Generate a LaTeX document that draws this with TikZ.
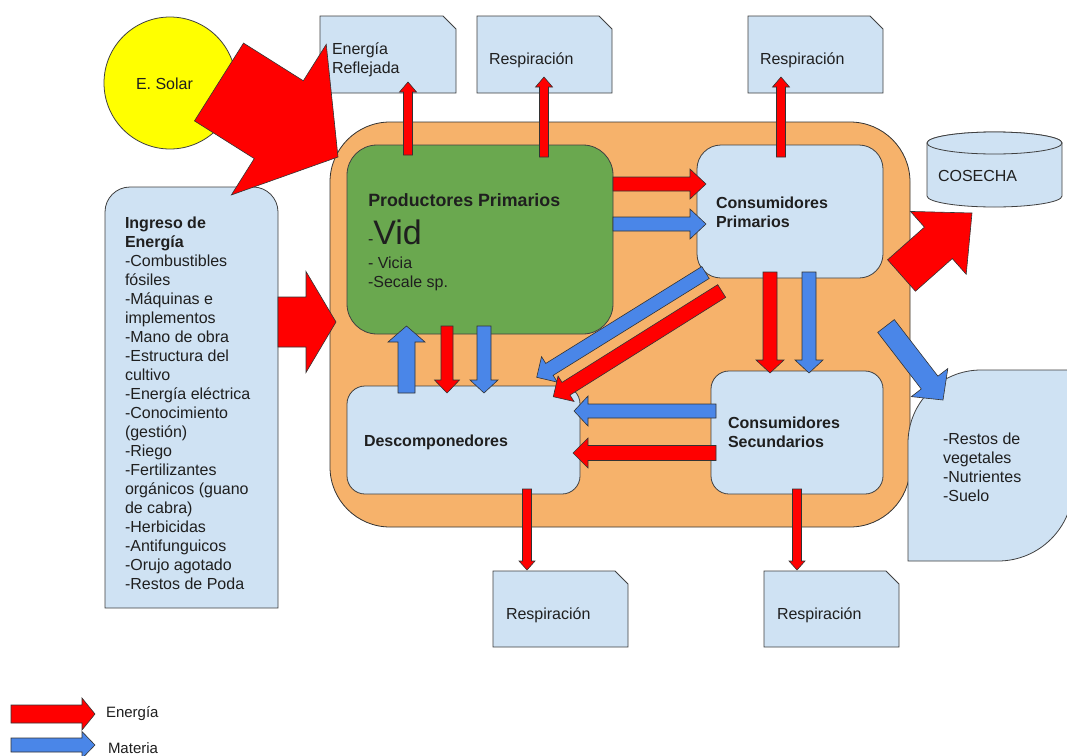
\documentclass[tikz,border=0pt]{standalone}
\usepackage{fontspec}
\setmainfont{Liberation Sans}
\usetikzlibrary{calc}
\definecolor{lblue}{HTML}{CFE2F3}
\definecolor{mblue}{HTML}{4A86E8}
\definecolor{ggreen}{HTML}{6AA84F}
\definecolor{gorange}{HTML}{F6B26B}
\definecolor{gyellow}{HTML}{FFFF00}
\definecolor{gred}{HTML}{FF0000}
% block arrow: #1 style, #2 tail coordinate, #3 tip coordinate, #4 half shaft, #5 half head, #6 head length
\newcommand\blockarrow[6]{%
  \coordinate (bahead) at ($(#3)!#6!(#2)$);
  \draw[#1] ($(#2)!#4!90:(#3)$) -- ($(bahead)!#4!90:(#3)$) -- ($(bahead)!#5!90:(#3)$) -- (#3)
    -- ($(bahead)!#5!-90:(#3)$) -- ($(bahead)!#4!-90:(#3)$) -- ($(#2)!#4!-90:(#3)$) -- cycle;}
% snipped box: x1, y1, x2, y2, name
\newcommand\snipbox[5]{%
  \draw[bx] (#1,#4) -- (#1,#2) -- ({#3-13},#2) -- (#3,{#2+13}) -- (#3,#4) -- cycle;
  \coordinate (#5) at ({(#1+#3)/2},{(#2+#4)/2});}
\begin{document}
\begin{tikzpicture}[x=1pt,y=-1pt,
  lbl/.style={inner sep=0pt, outer sep=0pt, text=black!88, font=\fontsize{16}{19}\selectfont, align=left},
  blbl/.style={lbl, font=\fontsize{16}{19}\selectfont\bfseries},
  bx/.style={draw=black!75, line width=0.8pt, fill=lblue},
  earr/.style={draw=black!80, line width=0.6pt, fill=gred, line join=miter},
  marr/.style={draw=black!80, line width=0.6pt, fill=mblue, line join=miter}]
\useasboundingbox (0,0) rectangle (1067,755);
\fill[white] (0,0) rectangle (1067,755);

% system box
\node[draw=black!80, line width=0.8pt, fill=gorange, rounded corners=60pt, minimum width=580pt, minimum height=405pt, inner sep=0pt] (sys) at (620,324.5) {};

% sun
\node[circle, draw=black!75, line width=0.8pt, fill=gyellow, minimum size=132pt, inner sep=0pt] (sun) at (170,83) {};
\node[lbl, anchor=base west] (suntxt) at (136,89) {E. Solar};

% outputs
\snipbox{320}{16}{456}{93}{refl}
\snipbox{477}{16}{612}{93}{resp1}
\snipbox{748}{16}{883}{93}{resp2}
\snipbox{493}{571}{628}{647}{resp3}
\snipbox{764}{571}{899}{647}{resp4}
\node[lbl, anchor=north west] (refltxt) at (332,42.5) {Energía\\Reflejada};
\node[lbl, anchor=base west] (resp1txt) at (489,64) {Respiración};
\node[lbl, anchor=base west] (resp2txt) at (760,64) {Respiración};
\node[lbl, anchor=base west] (resp3txt) at (506,619) {Respiración};
\node[lbl, anchor=base west] (resp4txt) at (777,619) {Respiración};

% cosecha cylinder
\draw[bx] (927,143) -- (927,196) arc[start angle=180, end angle=360, x radius=67.5pt, y radius=11pt]
  -- (1062,143) arc[start angle=0, end angle=180, x radius=67.5pt, y radius=11pt] -- cycle;
\draw[bx] (994.5,143) ellipse[x radius=67.5pt, y radius=11pt];
\coordinate (cos) at (994.5,175);
\node[lbl, anchor=base west] (costxt) at (938,181) {COSECHA};

% restos
\draw[bx] (908,561) -- (908,443) arc[start angle=180, end angle=90, radius=73pt] -- (1073,370)
  -- (1073,486) arc[start angle=0, end angle=-90, radius=75pt] -- cycle;
\coordinate (rest) at (990,465);
\node[lbl, anchor=north west] (resttxt) at (943,433) {-Restos de\\vegetales\\-Nutrientes\\-Suelo};

% ingreso
\draw[bx] (105,608) -- (105,212) arc[start angle=180, end angle=90, radius=25pt] -- (253,187)
  arc[start angle=90, end angle=0, radius=25pt] -- (278,608) -- cycle;
\coordinate (ing) at (191.5,397.5);
\node[lbl, anchor=north west] (ingtxt) at (125,217.2) {\textbf{Ingreso de}\\\textbf{Energía}\\-Combustibles\\fósiles\\-Máquinas e\\implementos\\-Mano de obra\\-Estructura del\\cultivo\\-Energía eléctrica\\-Conocimiento\\(gestión)\\-Riego\\-Fertilizantes\\orgánicos (guano\\de cabra)\\-Herbicidas\\-Antifunguicos\\-Orujo agotado\\-Restos de Poda};

% compartments
\node[draw=black!75, line width=0.8pt, fill=ggreen, rounded corners=30pt, minimum width=266pt, minimum height=189pt, inner sep=0pt] (pp) at (480,239.5) {};
\node[bx, rounded corners=24pt, minimum width=186pt, minimum height=133pt, inner sep=0pt] (cp) at (790,211.5) {};
\node[bx, rounded corners=18pt, minimum width=233pt, minimum height=108pt, inner sep=0pt] (dec) at (463.5,440) {};
\node[bx, rounded corners=18pt, minimum width=172pt, minimum height=123pt, inner sep=0pt] (cs) at (797,432.5) {};

\node[lbl, anchor=base west, font=\fontsize{17.8}{20}\selectfont\bfseries] (pptitle) at (368.3,206.4) {Productores Primarios};
\node[lbl, anchor=base west] (vid) at (368,244) {-{\fontsize{34}{36}\selectfont Vid}};
\node[lbl, anchor=north west] (ppsp) at (368,257.2) {- Vicia\\-Secale sp.};
\node[blbl, anchor=north west] (cptxt) at (716,197.2) {Consumidores\\Primarios};
\node[blbl, anchor=base west] (dectxt) at (364,446) {Descomponedores};
\node[blbl, anchor=north west] (cstxt) at (728,417.2) {Consumidores\\Secundarios};

% arrow end points
\coordinate (irefS) at (408,155);   \coordinate (irefE) at (408,82);
\coordinate (ir1S) at (544,157);    \coordinate (ir1E) at (544,77);
\coordinate (ir2S) at (781,157);    \coordinate (ir2E) at (781,77);
\coordinate (ppcpeS) at (613,184);  \coordinate (ppcpeE) at (706,184);
\coordinate (ppcpmS) at (613,224);  \coordinate (ppcpmE) at (706,224);
\coordinate (dppS) at (406.5,393);  \coordinate (dppE) at (406.5,326);
\coordinate (ppdeS) at (447,326);   \coordinate (ppdeE) at (447,393);
\coordinate (ppdmS) at (484,326);   \coordinate (ppdmE) at (484,393);
\coordinate (cpdmS) at (705.5,272.5); \coordinate (cpdmE) at (536.7,377.3);
\coordinate (cpdeS) at (721.7,291);   \coordinate (cpdeE) at (553.3,396.7);
\coordinate (cpcseS) at (770,272);  \coordinate (cpcseE) at (770,373);
\coordinate (cpcsmS) at (809,272);  \coordinate (cpcsmE) at (809,373);
\coordinate (csdmS) at (716,411);   \coordinate (csdmE) at (574,411);
\coordinate (csdeS) at (716,453);   \coordinate (csdeE) at (573,453);
\coordinate (dr3S) at (527,489);    \coordinate (dr3E) at (527,570);
\coordinate (csr4S) at (797,489);   \coordinate (csr4E) at (797,570);
\coordinate (cosS) at (901.5,275.5); \coordinate (cosE) at (972,213);
\coordinate (resS) at (886,326);    \coordinate (resE) at (943,400);
\coordinate (ingS) at (278,322);    \coordinate (ingE) at (336,322);
\coordinate (sunS) at (219,82);     \coordinate (sunE) at (338,157);

\blockarrow{earr}{irefS}{irefE}{4.5pt}{8.5pt}{10pt}
\blockarrow{earr}{ir1S}{ir1E}{4.5pt}{8.5pt}{10pt}
\blockarrow{earr}{ir2S}{ir2E}{4.5pt}{8.5pt}{10pt}
\blockarrow{earr}{ppcpeS}{ppcpeE}{7pt}{15pt}{16pt}
\blockarrow{marr}{ppcpmS}{ppcpmE}{7pt}{15pt}{16pt}
\blockarrow{marr}{dppS}{dppE}{8.5pt}{18.5pt}{16pt}
\blockarrow{earr}{ppdeS}{ppdeE}{6pt}{12.5pt}{13pt}
\blockarrow{marr}{ppdmS}{ppdmE}{7pt}{14pt}{13pt}
\blockarrow{marr}{cpdmS}{cpdmE}{7pt}{15pt}{15pt}
\blockarrow{earr}{cpdeS}{cpdeE}{7.5pt}{15pt}{15pt}
\blockarrow{earr}{cpcseS}{cpcseE}{7pt}{14pt}{13pt}
\blockarrow{marr}{cpcsmS}{cpcsmE}{7pt}{14pt}{13pt}
\blockarrow{marr}{csdmS}{csdmE}{7pt}{15pt}{14pt}
\blockarrow{earr}{csdeS}{csdeE}{7.5pt}{15pt}{15pt}
\blockarrow{earr}{dr3S}{dr3E}{4.5pt}{8pt}{9pt}
\blockarrow{earr}{csr4S}{csr4E}{4.5pt}{8pt}{9pt}
\blockarrow{earr}{cosS}{cosE}{21pt}{42pt}{45pt}
\blockarrow{marr}{resS}{resE}{10.5pt}{23pt}{22pt}
\blockarrow{earr}{ingS}{ingE}{25pt}{50.5pt}{30pt}
\blockarrow{earr}{sunS}{sunE}{46pt}{89pt}{70pt}

% legend
\coordinate (legeS) at (11,714);   \coordinate (legeE) at (95,714);
\coordinate (legmS) at (11,745);   \coordinate (legmE) at (95,745);
\blockarrow{earr}{legeS}{legeE}{9pt}{16pt}{13pt}
\blockarrow{marr}{legmS}{legmE}{7pt}{13.5pt}{13pt}
\node[lbl, anchor=base west, font=\fontsize{15}{18}\selectfont] (legetxt) at (106,717.5) {Energía};
\node[lbl, anchor=base west, font=\fontsize{15}{18}\selectfont] (legmtxt) at (108,753) {Materia};
\end{tikzpicture}
\end{document}
